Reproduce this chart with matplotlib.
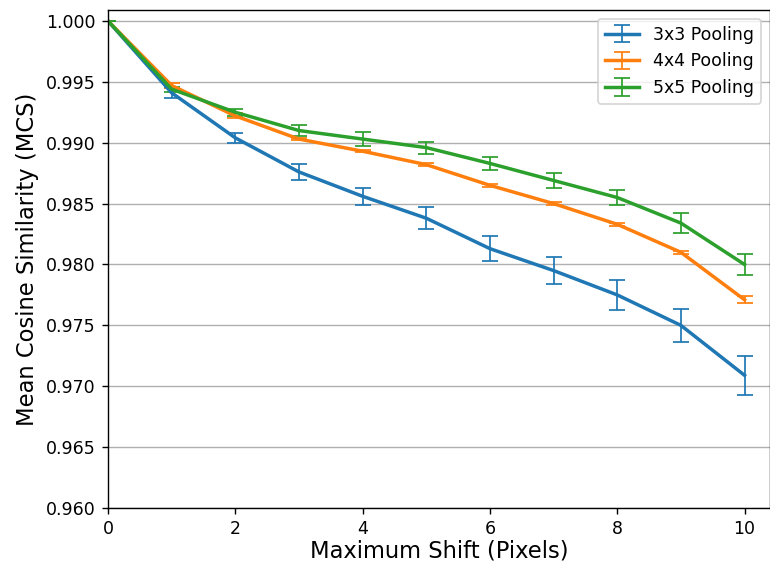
import matplotlib
matplotlib.use("Agg")
import matplotlib.pyplot as plt

# max shift in pixels
shifts = [0, 1, 2, 3, 4, 5, 6, 7, 8, 9, 10]

mcs_3x3 = [1.0000, 0.9941, 0.9904, 0.9876, 0.9856, 0.9838, 0.9813, 0.9795, 0.9775, 0.9750, 0.9709]
err_3x3 = [0.0000, 0.0004, 0.0004, 0.00065, 0.0007, 0.0009, 0.001, 0.0011, 0.00125, 0.00135, 0.0016]

mcs_4x4 = [1.0000, 0.9947, 0.9922, 0.9903, 0.9893, 0.9882, 0.9865, 0.9850, 0.9833, 0.9810, 0.9771]
err_4x4 = [0.0000, 0.0002, 0.0002, 0.0001, 0.0001, 0.0001, 0.0001, 0.0001, 0.0001, 0.0001, 0.0003]

mcs_5x5 = [1.0000, 0.9944, 0.9925, 0.9910, 0.9903, 0.9896, 0.9883, 0.9869, 0.9855, 0.9834, 0.9800]
err_5x5 = [0.0000, 0.0002, 0.0003, 0.00045, 0.00055, 0.0005, 0.0005, 0.0006, 0.00065, 0.0008, 0.00085]

labels = ["3x3 Pooling", "4x4 Pooling", "5x5 Pooling"]

DPI = 125
fig = plt.figure(figsize=(770 / DPI, 565 / DPI), dpi=DPI)
ax = fig.add_axes([108 / 770, 57 / 565, 662 / 770, 498 / 565])

for y, e, lab in zip([mcs_3x3, mcs_4x4, mcs_5x5], [err_3x3, err_4x4, err_5x5], labels):
    ax.errorbar(shifts, y, yerr=e, label=lab, linewidth=2, elinewidth=1, capsize=4.5)

ax.set_xlim(0, 10.4)
ax.set_ylim(0.960, 1.0009)
ax.set_yticks([0.960, 0.965, 0.970, 0.975, 0.980, 0.985, 0.990, 0.995, 1.000])
ax.set_xticks([0, 2, 4, 6, 8, 10])
ax.grid(axis="y")
ax.set_xlabel("Maximum Shift (Pixels)", fontsize=13, labelpad=1)
ax.set_ylabel("Mean Cosine Similarity (MCS)", fontsize=13)
ax.legend(loc="upper right")

fig.savefig("out.png", dpi=DPI)
